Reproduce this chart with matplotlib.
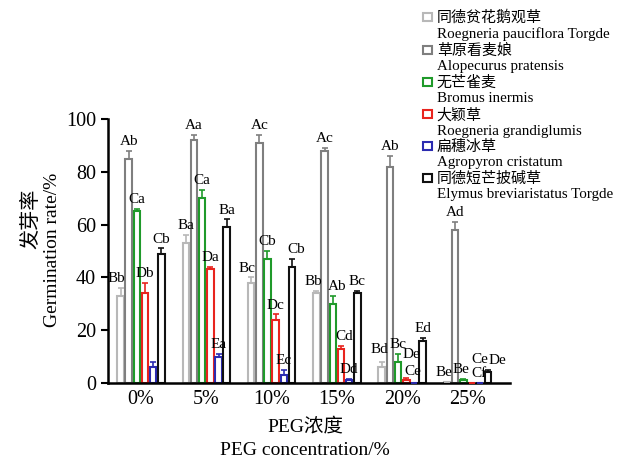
import numpy as np
import matplotlib
matplotlib.use('Agg')
import matplotlib.pyplot as plt
from matplotlib.patches import Rectangle

plt.rcParams['font.family'] = ['Liberation Serif', 'Noto Sans CJK SC']

groups = ['0%', '5%', '10%', '15%', '20%', '25%']
species_cn = ['同德贫花鹅观草', '草原看麦娘', '无芒雀麦', '大颖草', '扁穗冰草', '同德短芒披碱草']
species_en = ['Roegneria pauciflora Torgde', 'Alopecurus pratensis', 'Bromus inermis',
              'Roegneria grandiglumis', 'Agropyron cristatum', 'Elymus breviaristatus Torgde']
colors = ['#b8b8b8', '#7f7f7f', '#1f9a2a', '#e8241e', '#2b2bb0', '#111111']

# germination rate (%) per species, one value per PEG level
r_pauciflora = [33, 53, 38, 34, 6, 0.5]
a_pratensis = [85, 92, 91, 88, 82, 58]
b_inermis = [65, 70, 47, 30, 8, 1]
r_grandiglumis = [34, 43, 24, 13, 1, 0]
a_cristatum = [6, 10, 3, 1, 0, 0]
e_breviaristatus = [49, 59, 44, 34, 16, 4]

err_pauciflora = [3, 3, 2, 1, 2, 0]
err_pratensis = [3, 2, 3, 1, 4, 3]
err_inermis = [1, 3, 3, 3, 3, 0.5]
err_grandiglumis = [4, 1, 2, 1, 1, 0]
err_cristatum = [2, 1, 2, 0.5, 0, 0]
err_breviaristatus = [2, 3, 3, 1, 1, 1]

lab_pauciflora = ['Bb', 'Ba', 'Bc', 'Bb', 'Bd', 'Be']
lab_pratensis = ['Ab', 'Aa', 'Ac', 'Ac', 'Ab', 'Ad']
lab_inermis = ['Ca', 'Ca', 'Cb', 'Ab', 'Bc', 'Be']
lab_grandiglumis = ['Db', 'Da', 'Dc', 'Cd', 'Ce', 'Cf']
lab_cristatum = ['', 'Ea', 'Ec', 'Dd', 'De', 'Ce']
lab_breviaristatus = ['Cb', 'Ba', 'Cb', 'Bc', 'Ed', 'De']

values = [r_pauciflora, a_pratensis, b_inermis, r_grandiglumis, a_cristatum, e_breviaristatus]
errors = [err_pauciflora, err_pratensis, err_inermis, err_grandiglumis, err_cristatum, err_breviaristatus]
letters = [lab_pauciflora, lab_pratensis, lab_inermis, lab_grandiglumis, lab_cristatum, lab_breviaristatus]

# label nudges in points (series, group): (dx, dy)
nudge = {(0, 0): (-3, 0), (0, 2): (-3, 0), (0, 3): (-2, 0), (0, 4): (-2, 2),
         (5, 2): (3, 0), (2, 3): (3, 0), (3, 3): (2, 0),
         (3, 4): (5, -2), (4, 4): (-2, 14),
         (0, 5): (-2, 0), (2, 5): (-2, 0), (3, 5): (5, 0), (4, 5): (0, 10), (5, 5): (7, 0)}

fig = plt.figure(figsize=(6.3, 4.61), dpi=100)
ax = fig.add_axes([0.1714, 0.1692, 0.638, 0.5727])

x = np.arange(len(groups))
step = 0.125
width = 0.1
for j in range(6):
    pos = x + (j - 2.5) * step
    ax.bar(pos, values[j], width, facecolor='white', edgecolor=colors[j], linewidth=1.5, zorder=2)
    ax.errorbar(pos, values[j], yerr=[np.zeros(6), errors[j]], fmt='none',
                ecolor=colors[j], elinewidth=1.2, capsize=2.5, capthick=1.2, zorder=3)
    for i in range(6):
        if letters[j][i] == '':
            continue
        dx, dy = nudge.get((j, i), (0, 0))
        ax.annotate(letters[j][i], (pos[i], values[j][i] + errors[j][i]),
                    xytext=(dx, 2 + dy), textcoords='offset points',
                    ha='center', va='bottom', fontsize=11)

ax.set_xlim(-0.505, 5.65)
ax.set_ylim(0, 100)
ax.set_xticks(x)
ax.set_xticklabels(groups, fontsize=14.5)
ax.set_yticks([0, 20, 40, 60, 80, 100])
ax.tick_params(axis='y', labelsize=14.5, length=5, width=1.5, direction='out')
ax.tick_params(axis='x', length=0, pad=5)
for s in ['top', 'right']:
    ax.spines[s].set_visible(False)
for s in ['left', 'bottom']:
    ax.spines[s].set_linewidth(1.8)

fig.text(0.050, 0.525, '发芽率', rotation=90, ha='center', va='center', fontsize=14.5)
fig.text(0.083, 0.458, 'Germination rate/%', rotation=90, ha='center', va='center', fontsize=14)
fig.text(0.484, 1 - 426 / 461, 'PEG浓度', ha='center', va='center', fontsize=14)
fig.text(0.484, 1 - 450 / 461, 'PEG concentration/%', ha='center', va='center', fontsize=14)

handles = []
labels = []
for j in range(6):
    handles.append(Rectangle((0, 0), 1, 1, facecolor='white', edgecolor=colors[j], linewidth=1.5))
    labels.append(species_cn[j])
    handles.append(Rectangle((0, 0), 1, 1, alpha=0))
    labels.append(species_en[j])
leg = fig.legend(handles, labels, loc='upper left', bbox_to_anchor=(0.654, 1.0),
                 frameon=False, fontsize=10.8, handlelength=0.6, handleheight=0.45,
                 handletextpad=0.35, labelspacing=0.16, borderpad=0.2)

fig.savefig('out.png', dpi=100)
